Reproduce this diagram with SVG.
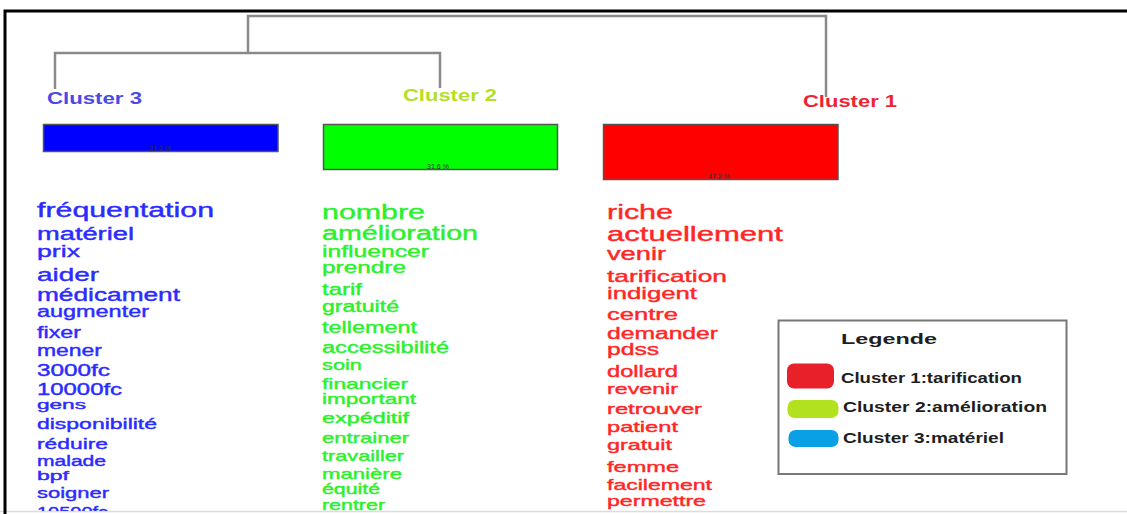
<svg xmlns="http://www.w3.org/2000/svg" width="1127" height="514" viewBox="0 0 1127 514">
<defs>
<clipPath id="page"><rect x="0" y="0" width="1127" height="511"/></clipPath>
<style>
.frame{stroke:#000;stroke-width:3;fill:none}
.dendro{stroke:#8a8a8a;stroke-width:2.5;fill:none;stroke-linecap:butt}
.clabel{font-family:"Liberation Sans",Arial,sans-serif;font-size:17px;font-weight:bold}
.bar{stroke:#555;stroke-width:1.5}
.pct{font-family:"Liberation Sans",Arial,sans-serif;font-size:7px;fill:#333;text-anchor:middle}
.w{font-family:"Liberation Sans",Arial,sans-serif;stroke-width:0.4}
.b{fill:#2b2bff;stroke:#2b2bff}
.g{fill:#2cf02c;stroke:#2cf02c}
.r{fill:#ff2626;stroke:#ff2626}
.leg{font-family:"Liberation Sans",Arial,sans-serif;font-weight:bold;fill:#1e1e1e;font-size:15px}
</style>
</defs>
<rect x="0" y="0" width="1127" height="514" fill="#ffffff"/>
<line x1="0" y1="511.5" x2="1127" y2="511.5" stroke="#dcdcdc" stroke-width="1.5"/>
<path class="frame" d="M5 514 V11 H1127"/>

<g id="connectors">
<path class="dendro" d="M248 53 V16 H826 V97"/>
<path class="dendro" d="M55 89 V53 H440 V88"/>
</g>

<g id="cluster3">
<text class="clabel" x="47" y="104" fill="#4a4ae6" textLength="95" lengthAdjust="spacingAndGlyphs">Cluster 3</text>
<rect class="bar" x="43.5" y="124.5" width="234.5" height="27" fill="#0000ff"/>
<text class="pct" x="160" y="150.5">21.2 %</text>
<g clip-path="url(#page)">
<text class="w b" x="37" y="216.5" font-size="20" textLength="177" lengthAdjust="spacingAndGlyphs">fréquentation</text>
<text class="w b" x="37" y="239.5" font-size="18" textLength="97" lengthAdjust="spacingAndGlyphs">matériel</text>
<text class="w b" x="37" y="257" font-size="17" textLength="43" lengthAdjust="spacingAndGlyphs">prix</text>
<text class="w b" x="37" y="280.5" font-size="19" textLength="62" lengthAdjust="spacingAndGlyphs">aider</text>
<text class="w b" x="37" y="300.5" font-size="18" textLength="143" lengthAdjust="spacingAndGlyphs">médicament</text>
<text class="w b" x="37" y="317" font-size="16" textLength="112" lengthAdjust="spacingAndGlyphs">augmenter</text>
<text class="w b" x="37" y="338" font-size="16" textLength="44" lengthAdjust="spacingAndGlyphs">fixer</text>
<text class="w b" x="37" y="355.5" font-size="16" textLength="65" lengthAdjust="spacingAndGlyphs">mener</text>
<text class="w b" x="37" y="376" font-size="16" textLength="73" lengthAdjust="spacingAndGlyphs">3000fc</text>
<text class="w b" x="37" y="394.5" font-size="16" textLength="85" lengthAdjust="spacingAndGlyphs">10000fc</text>
<text class="w b" x="37" y="409" font-size="13" textLength="49" lengthAdjust="spacingAndGlyphs">gens</text>
<text class="w b" x="37" y="429" font-size="15" textLength="120" lengthAdjust="spacingAndGlyphs">disponibilité</text>
<text class="w b" x="37" y="449" font-size="15" textLength="71" lengthAdjust="spacingAndGlyphs">réduire</text>
<text class="w b" x="37" y="465.5" font-size="14" textLength="69" lengthAdjust="spacingAndGlyphs">malade</text>
<text class="w b" x="37" y="480" font-size="13" textLength="32" lengthAdjust="spacingAndGlyphs">bpf</text>
<text class="w b" x="37" y="498" font-size="15" textLength="72" lengthAdjust="spacingAndGlyphs">soigner</text>
<text class="w b" x="37" y="517" font-size="15" textLength="71" lengthAdjust="spacingAndGlyphs">10500fc</text>
</g>
</g>

<g id="cluster2">
<text class="clabel" x="403" y="101" fill="#b3e024" textLength="94" lengthAdjust="spacingAndGlyphs">Cluster 2</text>
<rect class="bar" x="323.5" y="124.5" width="234" height="45" fill="#00ff00"/>
<text class="pct" x="438" y="168.5">31.6 %</text>
<g clip-path="url(#page)">
<text class="w g" x="322" y="218.5" font-size="20" textLength="103" lengthAdjust="spacingAndGlyphs">nombre</text>
<text class="w g" x="322" y="240" font-size="20" textLength="156" lengthAdjust="spacingAndGlyphs">amélioration</text>
<text class="w g" x="322" y="256.5" font-size="16" textLength="107" lengthAdjust="spacingAndGlyphs">influencer</text>
<text class="w g" x="322" y="273" font-size="16" textLength="84" lengthAdjust="spacingAndGlyphs">prendre</text>
<text class="w g" x="322" y="295" font-size="16" textLength="40" lengthAdjust="spacingAndGlyphs">tarif</text>
<text class="w g" x="322" y="311.5" font-size="16" textLength="77" lengthAdjust="spacingAndGlyphs">gratuité</text>
<text class="w g" x="322" y="332.5" font-size="16" textLength="95" lengthAdjust="spacingAndGlyphs">tellement</text>
<text class="w g" x="322" y="352.5" font-size="16" textLength="127" lengthAdjust="spacingAndGlyphs">accessibilité</text>
<text class="w g" x="322" y="370" font-size="15" textLength="40" lengthAdjust="spacingAndGlyphs">soin</text>
<text class="w g" x="322" y="388.5" font-size="15" textLength="86" lengthAdjust="spacingAndGlyphs">financier</text>
<text class="w g" x="322" y="404" font-size="15" textLength="94" lengthAdjust="spacingAndGlyphs">important</text>
<text class="w g" x="322" y="422.5" font-size="15" textLength="87" lengthAdjust="spacingAndGlyphs">expéditif</text>
<text class="w g" x="322" y="442.5" font-size="15" textLength="87" lengthAdjust="spacingAndGlyphs">entrainer</text>
<text class="w g" x="322" y="460.5" font-size="15" textLength="82" lengthAdjust="spacingAndGlyphs">travailler</text>
<text class="w g" x="322" y="478.5" font-size="15" textLength="80" lengthAdjust="spacingAndGlyphs">manière</text>
<text class="w g" x="322" y="493.5" font-size="14" textLength="58" lengthAdjust="spacingAndGlyphs">équité</text>
<text class="w g" x="322" y="510" font-size="14" textLength="63" lengthAdjust="spacingAndGlyphs">rentrer</text>
</g>
</g>

<g id="cluster1">
<text class="clabel" x="803" y="107" fill="#ee2233" textLength="94" lengthAdjust="spacingAndGlyphs">Cluster 1</text>
<rect class="bar" x="603.5" y="124.5" width="234.5" height="55" fill="#ff0000"/>
<text class="pct" x="719" y="178.5">47.2 %</text>
<g clip-path="url(#page)">
<text class="w r" x="607" y="218.5" font-size="20" textLength="66" lengthAdjust="spacingAndGlyphs">riche</text>
<text class="w r" x="607" y="240.5" font-size="20" textLength="176" lengthAdjust="spacingAndGlyphs">actuellement</text>
<text class="w r" x="607" y="260" font-size="18" textLength="59" lengthAdjust="spacingAndGlyphs">venir</text>
<text class="w r" x="607" y="281.5" font-size="17" textLength="120" lengthAdjust="spacingAndGlyphs">tarification</text>
<text class="w r" x="607" y="298.5" font-size="17" textLength="90" lengthAdjust="spacingAndGlyphs">indigent</text>
<text class="w r" x="607" y="320" font-size="16" textLength="71" lengthAdjust="spacingAndGlyphs">centre</text>
<text class="w r" x="607" y="338.5" font-size="16" textLength="111" lengthAdjust="spacingAndGlyphs">demander</text>
<text class="w r" x="607" y="355" font-size="16" textLength="52" lengthAdjust="spacingAndGlyphs">pdss</text>
<text class="w r" x="607" y="376.5" font-size="16" textLength="71" lengthAdjust="spacingAndGlyphs">dollard</text>
<text class="w r" x="607" y="394" font-size="15" textLength="71" lengthAdjust="spacingAndGlyphs">revenir</text>
<text class="w r" x="607" y="413.5" font-size="15" textLength="95" lengthAdjust="spacingAndGlyphs">retrouver</text>
<text class="w r" x="607" y="431.5" font-size="15" textLength="71" lengthAdjust="spacingAndGlyphs">patient</text>
<text class="w r" x="607" y="450" font-size="15" textLength="65" lengthAdjust="spacingAndGlyphs">gratuit</text>
<text class="w r" x="607" y="471.5" font-size="15" textLength="72" lengthAdjust="spacingAndGlyphs">femme</text>
<text class="w r" x="607" y="489.5" font-size="15" textLength="105" lengthAdjust="spacingAndGlyphs">facilement</text>
<text class="w r" x="607" y="506" font-size="15" textLength="99" lengthAdjust="spacingAndGlyphs">permettre</text>
</g>
</g>

<g id="legend">
<rect x="778.5" y="320.5" width="288" height="153.5" fill="#ffffff" stroke="#777" stroke-width="2"/>
<text class="leg" x="841" y="343.5" font-size="17" textLength="96" lengthAdjust="spacingAndGlyphs">Legende</text>
<rect x="787" y="363.5" width="47" height="25" rx="7" fill="#e8202a"/>
<text class="leg" x="841" y="383" textLength="181" lengthAdjust="spacingAndGlyphs">Cluster 1:tarification</text>
<rect x="787.5" y="400" width="51" height="18" rx="7" fill="#b2e21f"/>
<text class="leg" x="843" y="412" textLength="204" lengthAdjust="spacingAndGlyphs">Cluster 2:amélioration</text>
<rect x="788.5" y="430" width="50" height="17" rx="7" fill="#0aa0e6"/>
<text class="leg" x="843" y="443" textLength="161" lengthAdjust="spacingAndGlyphs">Cluster 3:matériel</text>
</g>
</svg>
